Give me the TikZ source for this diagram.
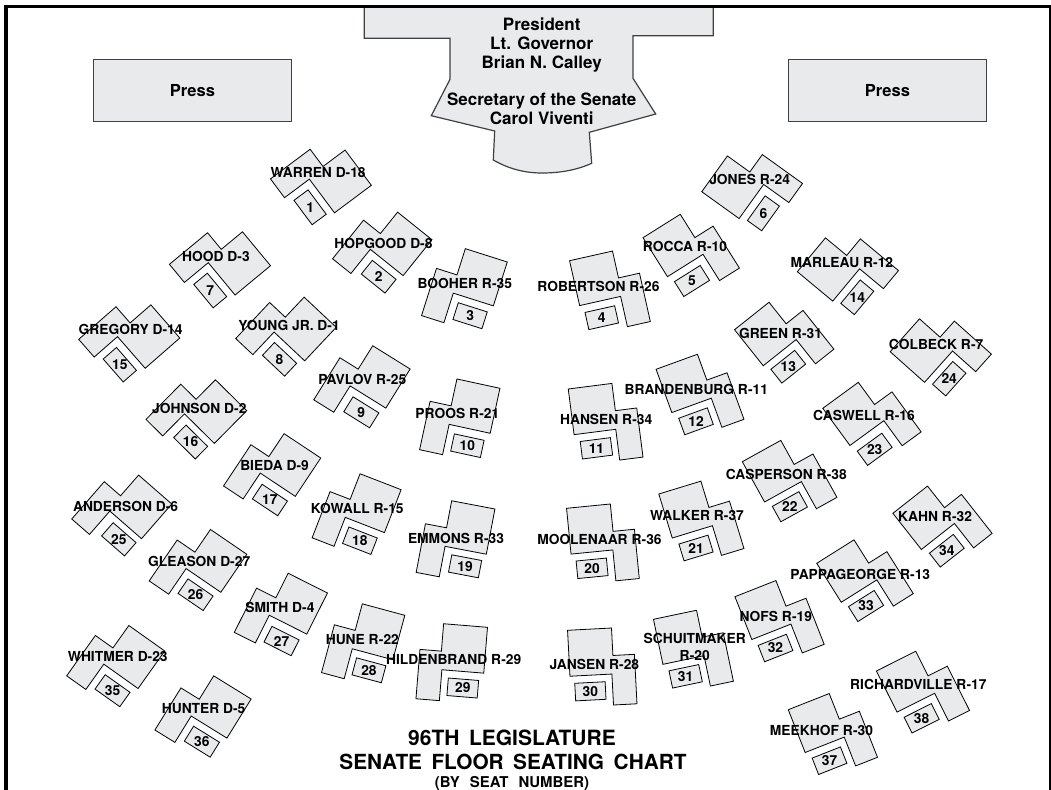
\documentclass[tikz,border=0pt]{standalone}
\usepackage{fontspec}
\setmainfont{TeX Gyre Heros}
\definecolor{deskfill}{HTML}{E9EAEC}
\tikzset{
  x=0.75pt,y=-0.75pt,
  declare function={fx(\q)=\q<525 ? \q*1.0045 : 525+(\q-525)*1.006;},
  deskshape/.style={draw=black,fill=deskfill,line width=0.6pt,line join=miter},
  seatshape/.style={draw=black,fill=deskfill,line width=0.6pt},
  blockshape/.style={draw=black!75,fill=deskfill,line width=0.9pt},
  namelabel/.style={font=\fontsize{10.35}{12.5}\selectfont\bfseries,inner sep=0pt,align=center},
  seatnumber/.style={font=\fontsize{10.35}{12.5}\selectfont\bfseries,inner sep=0pt},
  benchtext/.style={font=\fontsize{12.75}{14.6}\selectfont\bfseries,inner sep=0pt,align=center},
}
\def\desklist{%
1/369.7/185.3/343.7/150.3/308.7/207.3/316.7/173/-1/{WARREN D-18},
2/430/239.7/396/212.3/377/276.7/381.7/243/-1/{HOPGOOD D-8},
3/505/262/463.3/248.7/468/315.7/462.7/283/-1/{BOOHER R-35},
4/569.3/260.7/612.3/251/601.3/317.7/598/286/1/{ROBERTSON R-26},
5/642.3/237.7/678.7/214.7/691/281/684/246/1/{ROCCA R-10},
6/700.7/191.7/725.7/156.7/762/213.3/748.3/179.3/1/{JONES R-24},
7/269.3/265.7/241.3/231.7/209.3/290.5/215/256/-1/{HOOD D-3},
8/334.7/327.3/302.3/296.7/278.3/359.3/287.7/325/-1/{YOUNG JR. D-1},
9/408.3/369/371/345.7/359.7/412.3/360.7/379/-1/{PAVLOV R-25},
10/497.7/388.3/455/379/465.3/445.7/455.3/413/-1/{PROOS R-21},
11/568/389/612.3/383.3/596/448.3/605.7/419/1/{HANSEN R-34},
12/655.3/369.3/696.3/354.3/695/421.3/695.3/389/1/{BRANDENBURG R-11},
13/733.3/329.7/767/302.7/786.7/366.7/779/333/1/{GREEN R-31},
14/795.7/271.7/823.3/238.3/855.3/297.3/840/263/1/{MARLEAU R-12},
15/179/338/150.3/305/119.3/364.7/130/329/-1/{GREGORY D-14},
16/245.6/410.7/213.7/379/189.8/442/198.4/408/-1/{JOHNSON D-2},
17/319.3/458/283.3/434/268.7/500/273.3/465.3/-1/{BIEDA D-9},
18/399.3/489.7/358.3/473.7/358.3/540.7/355.7/508.3/-1/{KOWALL R-15},
19/492.7/509/449.3/500.7/463/566.3/454/538/-1/{EMMONS R-33},
20/566.3/508.3/609.7/504/591.7/568.3/599/539/1/{MOOLENAAR R-36},
21/658/494/699.3/481.3/695/548/696/515.7/1/{WALKER R-37},
22/741/461.7/778.7/440.7/788.3/506.7/784.7/474/1/{CASPERSON R-38},
23/821/408.3/852.3/385.3/872.6/449.3/862/415.7/1/{CASWELL R-16},
24/888/351.7/917/319/946.7/378.7/933.7/344/1/{COLBECK R-7},
25/171/504/138.7/475.7/118.3/539.3/125/506/-1/{ANDERSON D-6},
26/245.7/554.3/209.3/529.3/194.7/594.7/198.3/561/-1/{GLEASON D-27},
27/326/593/287/573.3/280.3/641/278.7/607/-1/{SMITH D-4},
28/403/615.3/361.3/604/367.3/670.3/360.7/640/-1/{HUNE R-22},
29/485.3/627.3/441.3/623.7/460.7/688/451.7/660/-1/{HILDENBRAND R-29},
30/567.3/630.3/611/628/590/691.3/594/664/1/{JANSEN R-28},
31/652.7/619.3/695.3/610.3/684.7/676.3/693.7/646.7/1/{SCHUITMAKER\\R-20},
32/733.7/596.7/774/580.7/774/648/774.3/616/1/{NOFS R-19},
33/815/563.3/851.3/540.3/864/606/858.3/574/1/{PAPPAGEORGE R-13},
34/890.7/513.3/924.3/486.7/944.3/550.7/932.7/517/1/{KAHN R-32},
35/164/651/128/625.3/112/690.7/117.3/657/-1/{WHITMER D-23},
36/250/699/213/676/201/741.7/202.7/709/-1/{HUNTER D-5},
37/786.7/709.7/827/693.7/827.7/760.7/819.7/730/1/{MEEKHOF R-30},
38/874.3/671/913.3/651.3/919.3/718.3/916/684/1/{RICHARDVILLE R-17}}
\begin{document}
\begin{tikzpicture}
\useasboundingbox (0,0) rectangle (1051,790);
% rostrum
\draw[blockshape] (364.3,6.7) -- (364.3,38.3) -- (450,38.3) -- (450,79.3) -- (431.3,115.7)
  -- (494.7,131) -- (493.3,160) .. controls (509,169) and (525,173) .. (542,173)
  .. controls (560,173) and (577,170) .. (591.7,163.3) -- (589.3,132.3) -- (655.7,114)
  -- (633,78.3) -- (633,35.7) -- (713.2,35.7) -- (713.2,6.7) -- cycle;
\node[benchtext] (rostrumtop) at (541.7,45) {President\\Lt. Governor\\Brian N. Calley};
\node[benchtext] (rostrumlow) at (541.7,108.6) {Secretary of the Senate\\Carol Viventi};
% press
\node[blockshape,minimum width=148.7pt,minimum height=46.6pt,inner sep=0pt,font=\fontsize{12.4}{14}\selectfont\bfseries] (pressleft) at (192.5,90.5) {Press};
\node[blockshape,minimum width=148.7pt,minimum height=46.6pt,inner sep=0pt,font=\fontsize{12.4}{14}\selectfont\bfseries] (pressright) at (887.5,90.5) {Press};
% desks
\foreach \n/\px/\py/\qx/\qy/\sx/\sy/\lx/\ly/\sd/\txt in \desklist {
  \pgfmathsetmacro\Px{fx(\px)}
  \pgfmathsetmacro\Qx{fx(\qx)}
  \pgfmathsetmacro\Sx{fx(\sx)}
  \pgfmathsetmacro\len{veclen(\Qx-\Px,\qy-\py)}
  \pgfmathsetmacro\ux{0.75*(\Qx-\Px)/\len}
  \pgfmathsetmacro\uy{-0.75*(\qy-\py)/\len}
  \pgfmathsetmacro\vx{\sd*\uy}
  \pgfmathsetmacro\vy{-\sd*\ux}
  \begin{scope}[shift={(\Px,\py)},x={(\ux pt,\uy pt)},y={(\vx pt,\vy pt)}]
    \draw[deskshape] (0,0) -- (44,0) -- (44,27.5) -- (65.5,27.5) -- (65.5,77) -- (42,77) -- (42,46) -- (0,46) -- cycle;
  \end{scope}
  \begin{scope}[shift={(\Sx,\sy)},x={(\ux pt,\uy pt)},y={(\vx pt,\vy pt)}]
    \draw[seatshape] (-15.2,-8.8) -- (15.2,-8.8) -- (15.2,8.8) -- (-15.2,8.8) -- cycle;
  \end{scope}
}
\foreach \n/\px/\py/\qx/\qy/\sx/\sy/\lx/\ly/\sd/\txt in \desklist {
  \pgfmathsetmacro\Sx{fx(\sx)}
  \pgfmathsetmacro\Lx{fx(\lx)}
  \node[seatnumber] (seat\n) at (\Sx,\sy) {\n};
  \node[namelabel] (name\n) at (\Lx,\ly) {\txt};
}
% title
\node[inner sep=0pt,font=\fontsize{15.75}{18}\selectfont\bfseries] (titleone) at (512,737.5) {\spaceskip=7.1pt 96TH LEGISLATURE};
\node[inner sep=0pt,font=\fontsize{15.6}{18}\selectfont\bfseries] (titletwo) at (513,761.5) {\spaceskip=7.1pt SENATE FLOOR SEATING CHART};
\node[inner sep=0pt,font=\fontsize{11.2}{13}\selectfont\bfseries] (titlethree) at (512,783.5) {\spaceskip=7.6pt (BY SEAT NUMBER)};
% frame
\draw[black,line width=2.3pt,line join=miter] (6,790) -- (6,6.5) -- (1050.3,6.5) -- (1050.3,790);
\end{tikzpicture}
\end{document}
